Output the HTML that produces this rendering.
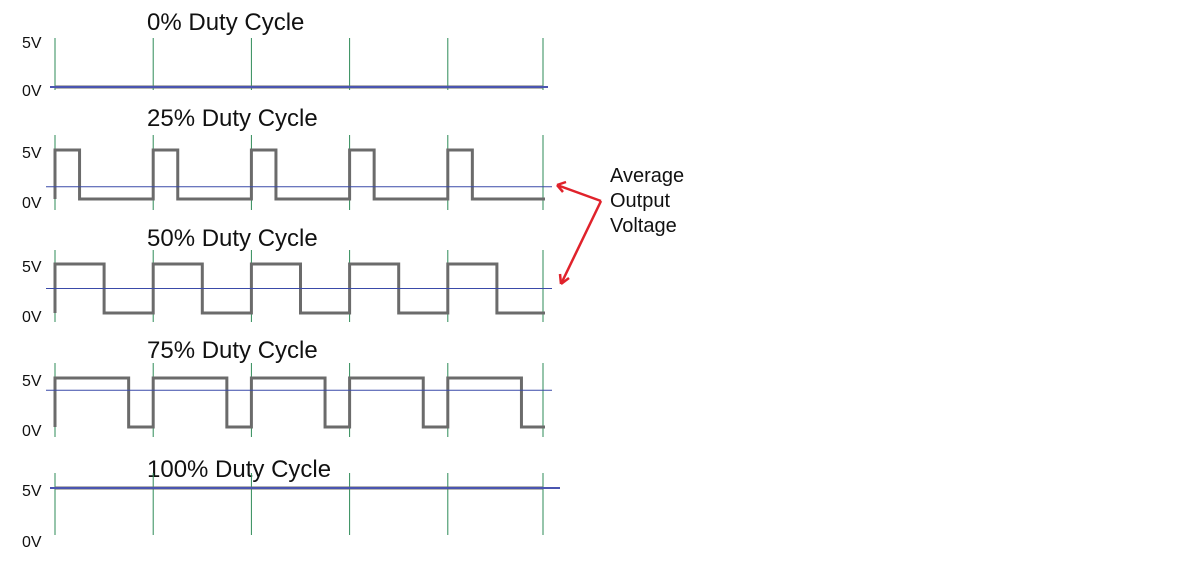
<!DOCTYPE html>
<html><head><meta charset="utf-8"><style>
body{margin:0;background:#fff;}
svg{display:block;font-family:"Liberation Sans","DejaVu Sans",sans-serif;}
</style></head><body>
<svg id="c" width="1200" height="564"></svg>
<script>
const duties=[0,25,50,75,100];
const titles=["0% Duty Cycle","25% Duty Cycle","50% Duty Cycle","75% Duty Cycle","100% Duty Cycle"];
const periodStarts=[0,1,2,3,4];
const yLabels=["5V","0V"];
const NS="http://www.w3.org/2000/svg";
const svg=document.getElementById('c');
function mk(t,a){const e=document.createElementNS(NS,t);for(const k in a)e.setAttribute(k,a[k]);svg.appendChild(e);return e;}
const x0=55,per=98.2,xEnd=543;
const panels=[{hi:40,lo:87,gt:38,gb:90,ty:22},{hi:150,lo:199,gt:135,gb:210,ty:118},{hi:264,lo:313,gt:250,gb:322,ty:238},{hi:378,lo:427,gt:363,gb:437,ty:350},{hi:488,lo:538,gt:473,gb:535,ty:469}];
function xs(p){return x0+p*per;}
duties.forEach((d,i)=>{
 const P=panels[i];
 const vy=v=>P.lo-(P.lo-P.hi)*v;
 let t=mk('text',{x:147,y:P.ty+8,'font-size':24,fill:'#111'});t.textContent=titles[i];
 
 let l5=mk('text',{x:22,y:P.hi+8,'font-size':16,fill:'#111'});l5.textContent=yLabels[0];
 
 let l0=mk('text',{x:22,y:P.lo+9,'font-size':16,fill:'#111'});l0.textContent=yLabels[1];
 
 [...periodStarts,5].forEach(p=>{
  const gx=p===5?xEnd:xs(p);
  const g=mk('line',{x1:gx,x2:gx,y1:P.gt,y2:P.gb,stroke:'#2e8b57','stroke-width':1});
  
 });
 if(d>0&&d<100){
  let pts=[];
  periodStarts.forEach(p=>{
   const a=xs(p),b=a+per*d/100;
   pts.push([a,vy(0)],[a,vy(1)],[b,vy(1)],[b,vy(0)]);
  });
  pts.push([xEnd+2,vy(0)]);
  const w=mk('polyline',{points:pts.map(q=>q.join(',')).join(' '),fill:'none',stroke:'#6b6b6b','stroke-width':3});
  
  const ay=vy(d/100);
  const av=mk('line',{x1:46,x2:552,y1:ay,y2:ay,stroke:'#3a4aa8','stroke-width':1});
  
 } else {
  const yy=vy(d/100);
  const w=mk('line',{x1:x0,x2:xEnd,y1:yy,y2:yy,stroke:'#6b6b6b','stroke-width':3});
  
  const av=mk('line',{x1:50,x2:d===100?560:548,y1:yy,y2:yy,stroke:'#4a55b0','stroke-width':2});
  
 }
});
const ar=mk('g',{});
function al(a){const e=document.createElementNS(NS,'line');for(const k in a)e.setAttribute(k,a[k]);e.setAttribute('stroke','#e0222b');e.setAttribute('stroke-width',2.5);ar.appendChild(e);}
al({x1:601,y1:201,x2:557,y2:185});al({x1:557,y1:185,x2:566,y2:182});al({x1:557,y1:185,x2:563,y2:192});
al({x1:601,y1:201,x2:561,y2:284});al({x1:561,y1:284,x2:560,y2:274});al({x1:561,y1:284,x2:569,y2:278});
["Average","Output","Voltage"].forEach((s,i)=>{const t=mk('text',{x:610,y:182+i*25,'font-size':20,fill:'#111'});t.textContent=s;
 });
</script>
</body></html>
